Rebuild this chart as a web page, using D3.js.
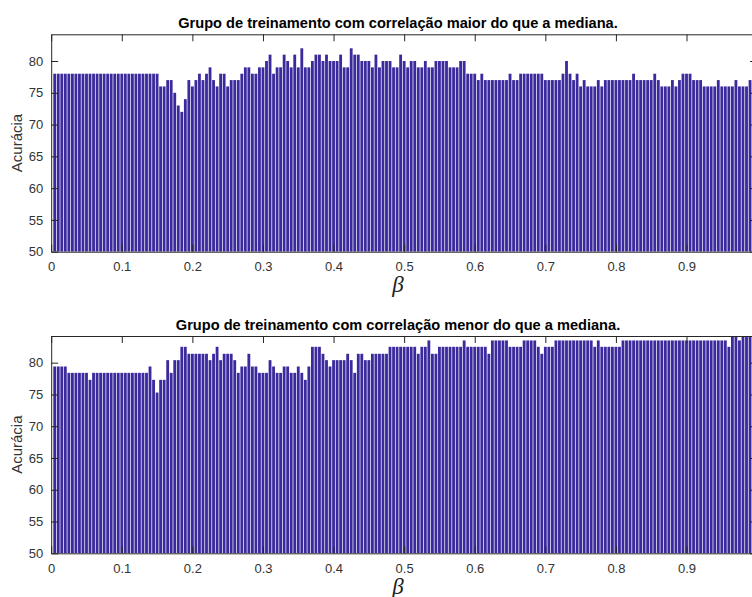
<!DOCTYPE html>
<html>
<head>
<meta charset="utf-8">
<script src="https://cdn.jsdelivr.net/npm/d3@7"></script>
<style>
  html, body { margin: 0; padding: 0; background: #ffffff; }
  svg { display: block; }
  .tick text { font-family: "Liberation Sans", Arial, sans-serif; font-size: 13px; fill: #333333; }
</style>
</head>
<body>
<svg id="chart" width="752" height="597"></svg>
<script>
// β grid: 0.005, 0.010, ..., 1.000
const betaStep = 0.005;
const betaCount = 200;
const betas = d3.range(1, betaCount + 1).map(k => +(k * betaStep).toFixed(3));

// Accuracy (%) for the group whose correlation is above the median
const accHigh = [
  78,78,78,78,78,78,78,78,78,78, 78,78,78,78,78,78,78,78,78,78,
  78,78,78,78,78,78,78,78,78,78, 76,76,77,77,75,73,72,74,77,76,
  77,78,77,78,79,77,76,78,78,76, 77,77,77,78,79,79,78,78,79,79,
  80,81,78,79,79,81,80,79,81,79, 82,79,79,80,81,81,80,81,80,80,
  80,81,79,79,82,81,81,80,80,80, 79,81,79,80,80,80,79,79,81,80,
  79,80,80,79,79,80,79,79,80,80, 80,80,79,79,79,80,80,78,78,78,
  77,78,77,77,77,77,77,77,77,78, 77,77,78,78,78,78,78,78,78,77,
  77,77,77,77,78,80,78,77,78,76, 77,76,76,76,77,76,77,77,77,77,
  77,77,77,77,78,77,77,77,77,77, 78,77,76,76,76,77,76,77,78,78,
  78,77,77,77,76,76,76,76,77,76, 76,76,76,77,76,76,76,77,77,76
];

// Accuracy (%) for the group whose correlation is below the median
const accLow = [
  79.4,79.4,79.4,79.4,78.4,78.4,78.4,78.4,78.4,78.4,
  77.3,78.4,78.4,78.4,78.4,78.4,78.4,78.4,78.4,78.4,
  78.4,78.4,78.4,78.4,78.4,78.4,78.4,79.4,77.3,75.3,
  77.3,77.3,80.4,78.4,80.4,80.4,82.5,82.5,81.4,81.4,
  81.4,81.4,81.4,81.4,80.4,81.4,82.5,80.4,81.4,81.4,
  81.4,80.4,78.4,79.4,79.4,81.4,79.4,79.4,78.4,78.4,
  78.4,80.4,79.4,78.4,78.4,79.4,79.4,78.4,78.4,79.4,
  78.4,77.3,79.4,82.5,82.5,82.5,81.4,80.4,79.4,80.4,
  80.4,80.4,80.4,81.4,80.4,78.4,81.4,81.4,80.4,80.4,
  81.4,81.4,81.4,81.4,81.4,82.5,82.5,82.5,82.5,82.5,
  82.5,82.5,82.5,81.4,82.5,82.5,83.5,81.4,81.4,82.5,
  82.5,82.5,82.5,82.5,82.5,82.5,83.5,82.5,82.5,82.5,
  82.5,82.5,82.5,81.4,83.5,83.5,83.5,83.5,83.5,82.5,
  82.5,82.5,82.5,83.5,83.5,83.5,83.5,82.5,81.4,82.5,
  82.5,82.5,83.5,83.5,83.5,83.5,83.5,83.5,83.5,83.5,
  83.5,83.5,83.5,82.5,83.5,82.5,82.5,82.5,82.5,82.5,
  82.5,83.5,83.5,83.5,83.5,83.5,83.5,83.5,83.5,83.5,
  83.5,83.5,83.5,83.5,83.5,83.5,83.5,83.5,83.5,83.5,
  83.5,83.5,83.5,83.5,83.5,83.5,83.5,83.5,83.5,83.5,
  83.5,82.5,84.5,84.5,83.5,84.5,84.5,84.5,84.5,84.5
];

// Tick positions; the tick at 1 sits past the right edge of the page, so only 0 to 0.9 get labels
const xTickValues = [0, 0.1, 0.2, 0.3, 0.4, 0.5, 0.6, 0.7, 0.8, 0.9, 1];
const xTickLabels = ["0", "0.1", "0.2", "0.3", "0.4", "0.5", "0.6", "0.7", "0.8", "0.9", ""];
const yTickValues = [50, 55, 60, 65, 70, 75, 80];
const yDomain = [50, 84.2];
const titles = [
  "Grupo de treinamento com correlação maior do que a mediana.",
  "Grupo de treinamento com correlação menor do que a mediana."
];
const yLabel = "Acurácia";
const xLabel = "β";

const svg = d3.select("#chart");
svg.append("rect").attr("width", 752).attr("height", 597).attr("fill", "#ffffff");

const barColor = "#3b2a9d";
const axisColor = "#262626";
const left = 51.2, right = 757.1;

const panels = [
  { values: accHigh, top: 34.3, bottom: 251.7, title: titles[0], titleY: 28, xLabelY: 291.5 },
  { values: accLow,  top: 336.0, bottom: 553.3, title: titles[1], titleY: 330, xLabelY: 593.5 }
];

const x = d3.scaleLinear().domain([0, 1]).range([left, right]);
const barW = x(0.8 * betaStep) - x(0);

panels.forEach((p, i) => {
  const y = d3.scaleLinear().domain(yDomain).range([p.bottom, p.top]);
  const g = svg.append("g");

  const clipId = "clip" + i;
  svg.append("clipPath").attr("id", clipId)
    .append("rect").attr("x", left).attr("y", p.top)
    .attr("width", right - left).attr("height", p.bottom - p.top);

  g.append("g").attr("clip-path", `url(#${clipId})`)
    .selectAll("rect")
    .data(betas.map((b, j) => ({ b, v: p.values[j] })))
    .join("rect")
    .attr("x", d => x(d.b) - barW / 2)
    .attr("width", barW)
    .attr("y", d => y(d.v))
    .attr("height", d => y(yDomain[0]) - y(d.v))
    .attr("fill", barColor);

  // axes box with inward ticks on all four sides
  const labelOf = v => xTickLabels[xTickValues.indexOf(v)];
  const bottomAxis = d3.axisBottom(x).tickValues(xTickValues).tickFormat(labelOf)
    .tickSizeInner(-7).tickSizeOuter(0).tickPadding(10);
  const topAxis = d3.axisTop(x).tickValues(xTickValues).tickFormat("")
    .tickSizeInner(-7).tickSizeOuter(0);
  const leftAxis = d3.axisLeft(y).tickValues(yTickValues)
    .tickSizeInner(-7).tickSizeOuter(0).tickPadding(8);
  const rightAxis = d3.axisRight(y).tickValues(yTickValues).tickFormat("")
    .tickSizeInner(-7).tickSizeOuter(0);

  const styleAxis = sel => {
    sel.selectAll("path.domain").attr("stroke", axisColor);
    sel.selectAll(".tick line").attr("stroke", axisColor);
  };

  g.append("g").attr("transform", `translate(0,${p.bottom})`).call(bottomAxis).call(styleAxis);
  g.append("g").attr("transform", `translate(0,${p.top})`).call(topAxis).call(styleAxis);
  g.append("g").attr("transform", `translate(${left},0)`).call(leftAxis).call(styleAxis);
  g.append("g").attr("transform", `translate(${right},0)`).call(rightAxis).call(styleAxis);

  g.append("text")
    .attr("x", 398).attr("y", p.titleY)
    .attr("text-anchor", "middle")
    .attr("font-family", "Liberation Sans, Arial, sans-serif")
    .attr("font-weight", "bold")
    .attr("font-size", 14.6)
    .attr("fill", "#000000")
    .text(p.title);

  g.append("text")
    .attr("transform", `translate(21.5,${(p.top + p.bottom) / 2}) rotate(-90)`)
    .attr("text-anchor", "middle")
    .attr("font-family", "Liberation Sans, Arial, sans-serif")
    .attr("font-size", 15)
    .attr("fill", "#333333")
    .text(yLabel);

  g.append("text")
    .attr("x", 398).attr("y", p.xLabelY)
    .attr("text-anchor", "middle")
    .attr("font-family", "Liberation Serif, Times New Roman, serif")
    .attr("font-style", "italic")
    .attr("font-size", 23)
    .attr("fill", "#222222")
    .text(xLabel);
});
</script>
</body>
</html>
